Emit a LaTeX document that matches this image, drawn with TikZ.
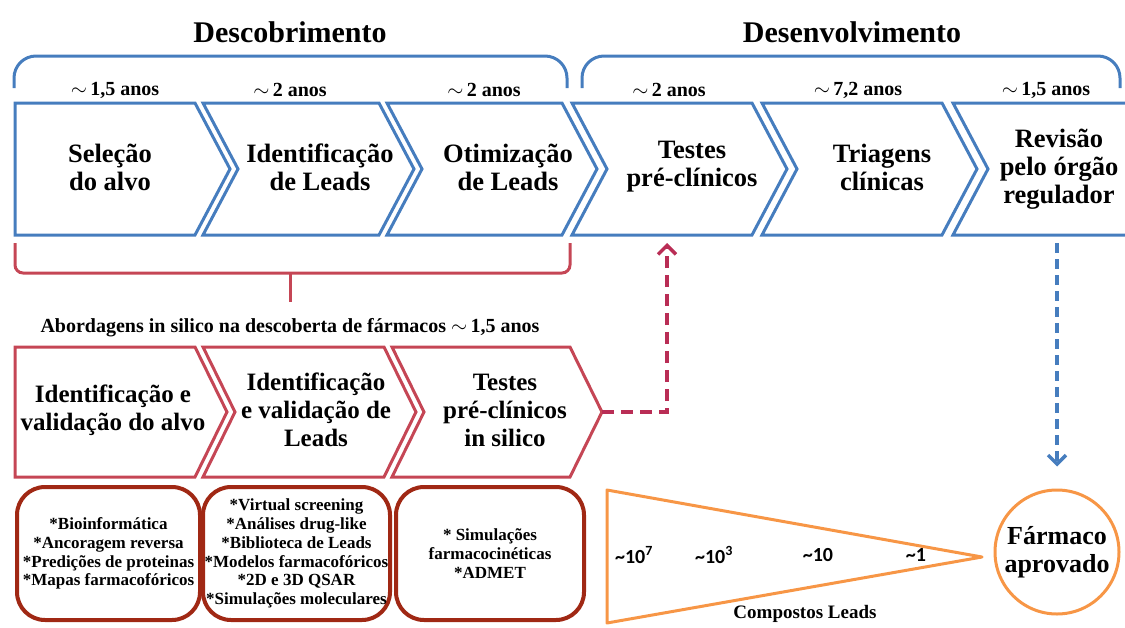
\documentclass[tikz,border=0pt]{standalone}
\usepackage{fontspec}
\setmainfont{Liberation Serif}
\newfontfamily\numfont{Carlito}
\usetikzlibrary{arrows.meta, positioning}

\definecolor{azul}{RGB}{70,125,190}
\definecolor{vermelho}{RGB}{197,70,85}
\definecolor{carmim}{RGB}{185,45,85}
\definecolor{tijolo}{RGB}{160,40,20}
\definecolor{laranja}{RGB}{247,150,70}

\begin{document}
\begin{tikzpicture}[x=1pt, y=-1pt,
    azulchev/.style={draw=azul, line width=3pt},
    vermchev/.style={draw=vermelho, line width=3pt},
    titulo/.style={font=\fontsize{30}{32}\selectfont\bfseries},
    anos/.style={font=\fontsize{20}{22}\selectfont\bfseries},
    etapa/.style={font=\fontsize{26.5}{28}\selectfont\bfseries, align=center},
    insilico/.style={font=\fontsize{25}{28}\selectfont\bfseries, align=center},
    lista/.style={font=\fontsize{17}{18.7}\selectfont\bfseries, align=center, inner sep=1pt},
    caixa/.style={draw=tijolo, line width=4pt, rounded corners=28pt},
    numero/.style={font=\numfont\fontsize{20}{22}\selectfont\bfseries}]

    \useasboundingbox (0,0) rectangle (1125,627);

    % Fases:
    \node[titulo] (desc) at (290,32) {Descobrimento};
    \node[titulo] (desenv) at (852,32) {Desenvolvimento};
    \draw[azul, line width=3pt, rounded corners=22pt] (14,88) -- (14,56) -- (567,56) -- (567,88);
    \draw[azul, line width=3pt, rounded corners=22pt] (582,88) -- (582,56) -- (1120,56) -- (1120,88);

    % Etapas classicas:
    \draw[azulchev] (15,103) -- (195,103) -- (230,169) -- (195,235) -- (15,235) -- cycle;
    \draw[azulchev] (203,103) -- (379,103) -- (414,169) -- (379,235) -- (203,235) -- (238,169) -- cycle;
    \draw[azulchev] (387,103) -- (562,103) -- (597,169) -- (562,235) -- (387,235) -- (422,169) -- cycle;
    \draw[azulchev] (572,103) -- (752,103) -- (787,169) -- (752,235) -- (572,235) -- (607,169) -- cycle;
    \draw[azulchev] (762,103) -- (942,103) -- (977,169) -- (942,235) -- (762,235) -- (797,169) -- cycle;
    \draw[azulchev] (1140,103) -- (953,103) -- (988,169) -- (953,235) -- (1140,235);

    \node[anos] (a1) at (115,90) {{\normalfont$\sim$}\,1,5 anos};
    \node[anos] (a2) at (290,90) {{\normalfont$\sim$}\,2 anos};
    \node[anos] (a3) at (484,90) {{\normalfont$\sim$}\,2 anos};
    \node[anos] (a4) at (669,90) {{\normalfont$\sim$}\,2 anos};
    \node[anos] (a5) at (858,90) {{\normalfont$\sim$}\,7,2 anos};
    \node[anos] (a6) at (1046,90) {{\normalfont$\sim$}\,1,5 anos};

    \node[etapa] (t1) at (110,167) {Seleção\\do alvo};
    \node[etapa] (t2) at (320,167) {Identificação\\de Leads};
    \node[etapa] (t3) at (508,167) {Otimização\\de Leads};
    \node[etapa] (t4) at (692,167) {Testes\\pré-clínicos};
    \node[etapa] (t5) at (882,167) {Triagens\\clínicas};
    \node[etapa] (t6) at (1059,169) {Revisão\\pelo órgão\\regulador};
    \coordinate (t4base) at (667,243);
    \coordinate (t6base) at (1057,243);

    % In silico:
    \draw[vermelho, line width=3pt, rounded corners=8pt] (15,243) -- (15,273) -- (570,273) -- (570,243);
    \draw[vermelho, line width=3pt] (290,273) -- (290,302);
    \node[anos] (abord) at (290,328) {Abordagens in silico na descoberta de fármacos {\normalfont$\sim$}\,1,5 anos};

    \draw[vermchev] (15,347) -- (195,347) -- (227,412) -- (195,477) -- (15,477) -- cycle;
    \draw[vermchev] (203,347) -- (384,347) -- (416,412) -- (384,477) -- (203,477) -- (235,412) -- cycle;
    \draw[vermchev] (392,347) -- (570,347) -- (602,412) -- (570,477) -- (392,477) -- (424,412) -- cycle;
    \coordinate (r3tip) at (602,412);

    \node[insilico] (r1) at (113,410) {Identificação e\\validação do alvo};
    \node[insilico] (r2) at (316,410) {Identificação\\e validação de\\Leads};
    \node[insilico] (r3) at (505,410) {Testes\\pré-clínicos\\in silico};

    \node[caixa, lista, minimum width=183pt, minimum height=133pt] (b1) at (108.5,553.5)
        {*Bioinformática\\*Ancoragem reversa\\*Predições de proteinas\\*Mapas farmacofóricos};
    \node[caixa, lista, minimum width=187pt, minimum height=133pt] (b2) at (296.5,553.5)
        {*Virtual screening\\*Análises drug-like\\*Biblioteca de Leads\\*Modelos farmacofóricos\\*2D e 3D QSAR\\*Simulações moleculares};
    \node[caixa, lista, minimum width=188pt, minimum height=133pt] (b3) at (490,553.5)
        {* Simulações\\farmacocinéticas\\*ADMET};

    % Compostos:
    \draw[laranja, line width=3pt, line join=round] (607,490) -- (982,557) -- (607,623) -- cycle;
    \node[numero] (n1) at (634,555) {\textasciitilde10\textsuperscript{7}};
    \node[numero] (n2) at (714,555) {\textasciitilde10\textsuperscript{3}};
    \node[numero] (n3) at (818,555) {\textasciitilde10};
    \node[numero] (n4) at (916,555) {\textasciitilde1};
    \node[font=\fontsize{19}{21}\selectfont\bfseries, inner sep=1pt] (compostos) at (805,614) {Compostos Leads};

    \node[circle, draw=laranja, line width=3pt, minimum size=124pt, inner sep=0pt,
        font=\fontsize{26}{28}\selectfont\bfseries, align=center] (farmaco) at (1057,552) {Fármaco\\aprovado};

    % Setas:
    \draw[carmim, line width=3.5pt, dash pattern=on 12pt off 7pt,
        -{Straight Barb[length=9pt, width=18pt]}] (r3tip) -| (t4base);
    \draw[azul, line width=3.5pt, dash pattern=on 10pt off 6pt, shorten >=22pt,
        -{Straight Barb[length=9pt, width=18pt]}] (t6base) -- (farmaco.north);
\end{tikzpicture}
\end{document}
